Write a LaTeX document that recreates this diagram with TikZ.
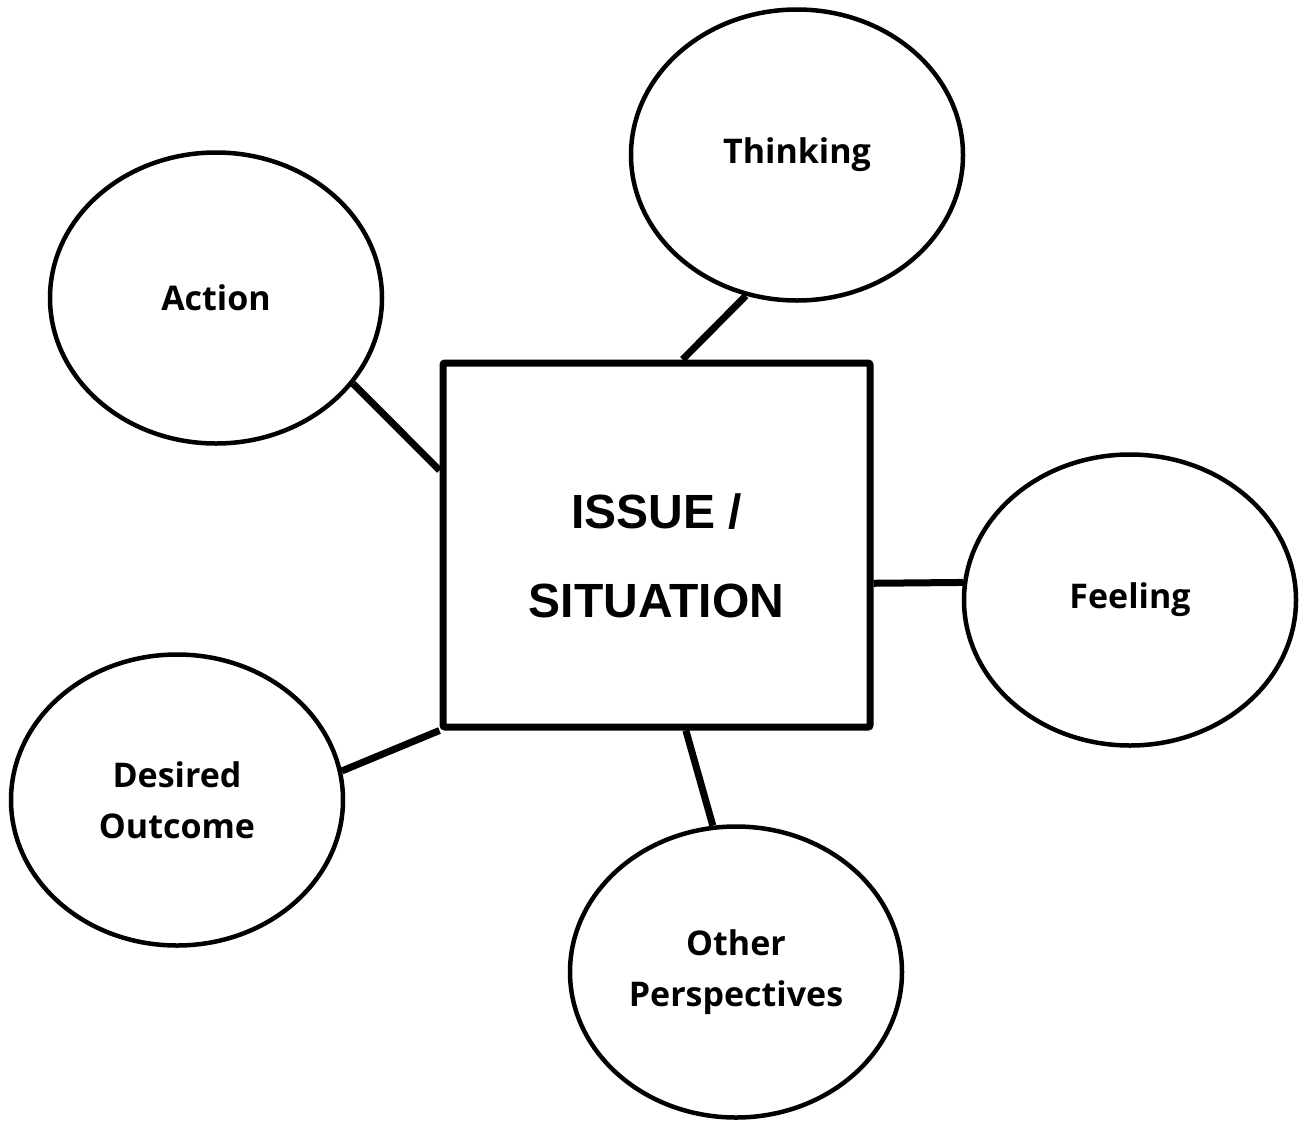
\documentclass[tikz,border=0pt]{standalone}
\usepackage{fontspec}
\usepackage{tikz}
\usetikzlibrary{shapes, positioning}
\newfontfamily\labelfont{Open Sans}
\newfontfamily\issuefont{Liberation Sans}

\begin{document}
\begin{tikzpicture}[
    x=1pt, y=-1pt,
    issue/.style={draw=black, rectangle, minimum width=427pt, minimum height=364pt, line width=7pt, rounded corners=2pt, align=center, font=\issuefont\bfseries\fontsize{48}{89}\selectfont},
    bubble/.style={draw=black, ellipse, minimum width=332pt, minimum height=291pt, inner sep=0pt, line width=4.5pt, align=center, font=\labelfont\bfseries\fontsize{34}{51}\selectfont},
    link/.style={line width=7pt, black}
]
\useasboundingbox[fill=white] (0,0) rectangle (1304,1120);

% extra height on the first line pushes the text a bit lower in the box
\node[issue] (issue) at (656.5,545) {\rule{0pt}{56pt}ISSUE /\\SITUATION};
\node[bubble, above=56.75pt of issue, xshift=140.5pt] (thinking) {Thinking};
\node[bubble, left=55.25pt of issue, yshift=247pt] (action) {Action};
\node[bubble, right=88.25pt of issue, yshift=-55pt] (feeling) {Feeling};
\node[bubble, left=94.25pt of issue, yshift=-255pt] (desired) {Desired\\Outcome};
\node[bubble, below=93.75pt of issue, xshift=79.5pt] (others) {Other\\Perspectives};

\draw[link] (issue.82) -- (thinking.250);
\draw[link] (issue.161) -- (action.-32);
\draw[link] (issue.-10) -- (feeling.174);
\draw[link] (issue.south west) -- (desired.10);
\draw[link] (issue.-81) -- (others.99);
\end{tikzpicture}
\end{document}
